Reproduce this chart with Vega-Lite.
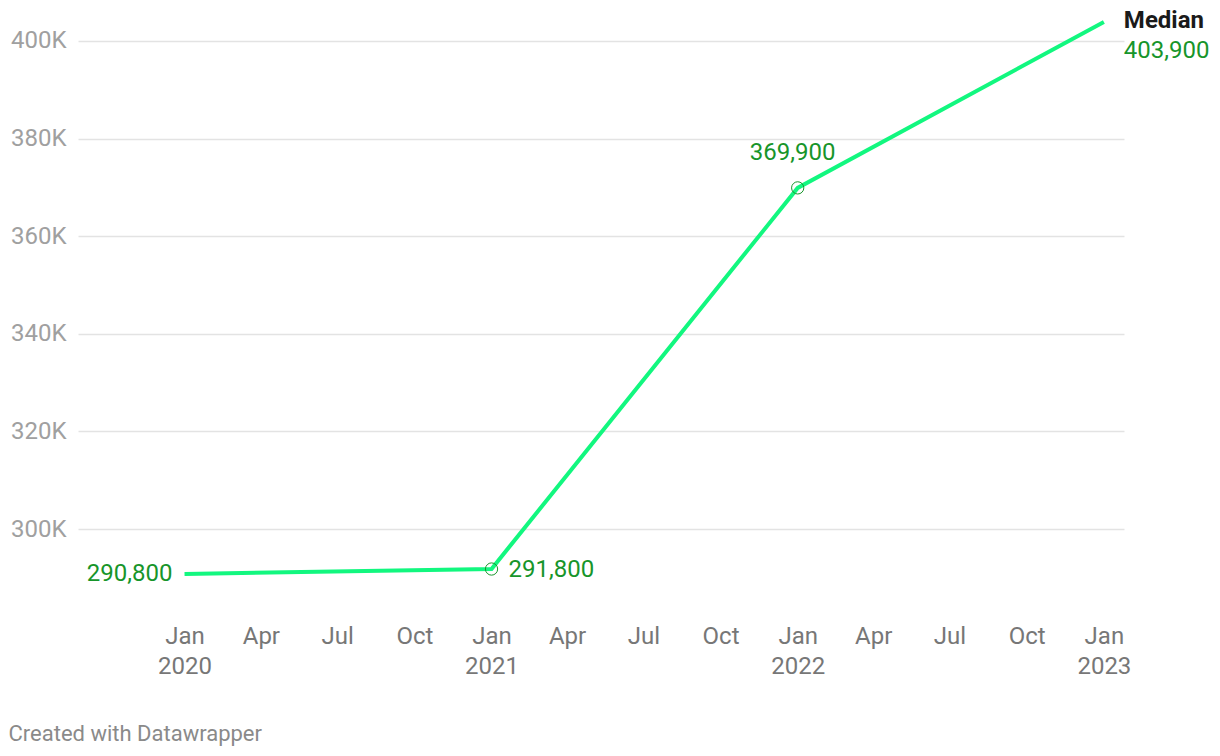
{
  "$schema": "https://vega.github.io/schema/vega-lite/v6.json",
  "autosize": "none",
  "width": 1046,
  "height": 580,
  "padding": {"left": 78, "top": 20, "right": 96, "bottom": 156},
  "background": "white",
  "config": {
    "font": "Roboto",
    "view": {"stroke": null},
    "title": {"font": "Roboto"}
  },
  "title": {
    "text": "Created with Datawrapper",
    "orient": "bottom",
    "anchor": "start",
    "dx": -2,
    "offset": 46,
    "fontSize": 22,
    "fontWeight": "normal",
    "color": "#8a8a8a",
    "font": "Roboto"
  },
  "data": {
    "values": [
      {"date": "2020-01-01", "median": 290800},
      {"date": "2021-01-01", "median": 291800},
      {"date": "2022-01-01", "median": 369900},
      {"date": "2023-01-01", "median": 403900}
    ]
  },
  "encoding": {
    "x": {
      "field": "date",
      "type": "temporal",
      "scale": {"type": "utc", "domain": [{"year": 2019, "month": 8, "date": 27, "utc": true}, {"year": 2023, "month": 1, "date": 25, "utc": true}]},
      "axis": {
        "title": null,
        "grid": false,
        "domain": false,
        "ticks": false,
        "values": [
          {"year": 2020, "month": 1, "date": 1, "utc": true},
          {"year": 2020, "month": 4, "date": 1, "utc": true},
          {"year": 2020, "month": 7, "date": 1, "utc": true},
          {"year": 2020, "month": 10, "date": 1, "utc": true},
          {"year": 2021, "month": 1, "date": 1, "utc": true},
          {"year": 2021, "month": 4, "date": 1, "utc": true},
          {"year": 2021, "month": 7, "date": 1, "utc": true},
          {"year": 2021, "month": 10, "date": 1, "utc": true},
          {"year": 2022, "month": 1, "date": 1, "utc": true},
          {"year": 2022, "month": 4, "date": 1, "utc": true},
          {"year": 2022, "month": 7, "date": 1, "utc": true},
          {"year": 2022, "month": 10, "date": 1, "utc": true},
          {"year": 2023, "month": 1, "date": 1, "utc": true}
        ],
        "labelExpr": "utcFormat(datum.value, '%b') == 'Jan' ? [utcFormat(datum.value, '%b'), utcFormat(datum.value, '%Y')] : utcFormat(datum.value, '%b')",
        "labelFontSize": 24,
        "labelColor": "#777777",
        "labelPadding": 24,
        "labelLineHeight": 30,
        "labelFlush": false,
        "labelOverlap": false,
        "labelBaseline": "top"
      }
    },
    "y": {
      "field": "median",
      "type": "quantitative",
      "scale": {"domain": [285451, 404303], "nice": false, "zero": false},
      "axis": {
        "title": null,
        "domain": false,
        "ticks": false,
        "values": [300000, 320000, 340000, 360000, 380000, 400000],
        "labelExpr": "format(datum.value / 1000, 'd') + 'K'",
        "labelFontSize": 24,
        "labelColor": "#a0a0a0",
        "labelPadding": 12,
        "gridColor": "#e3e3e3",
        "gridWidth": 1.5
      }
    }
  },
  "layer": [
    {
      "mark": {"type": "line", "color": "#12f77f", "strokeWidth": 4, "clip": false}
    },
    {
      "transform": [{"filter": "year(datum.date) == 2021 || year(datum.date) == 2022"}],
      "mark": {"type": "point", "shape": "circle", "filled": false, "size": 150, "stroke": "#17952a", "strokeWidth": 1, "opacity": 1}
    },
    {
      "transform": [{"filter": "utcFormat(datum.date, '%Y') == '2020'"}],
      "mark": {"type": "text", "align": "right", "baseline": "middle", "dx": -12, "fontSize": 24, "color": "#17952a"},
      "encoding": {"text": {"field": "median", "type": "quantitative", "format": ","}}
    },
    {
      "transform": [{"filter": "utcFormat(datum.date, '%Y') == '2021'"}],
      "mark": {"type": "text", "align": "left", "baseline": "middle", "dx": 17, "dy": 1, "fontSize": 24, "color": "#17952a"},
      "encoding": {"text": {"field": "median", "type": "quantitative", "format": ","}}
    },
    {
      "transform": [{"filter": "utcFormat(datum.date, '%Y') == '2022'"}],
      "mark": {"type": "text", "align": "center", "baseline": "middle", "dx": -5, "dy": -35, "fontSize": 24, "color": "#17952a"},
      "encoding": {"text": {"field": "median", "type": "quantitative", "format": ","}}
    },
    {
      "transform": [{"filter": "utcFormat(datum.date, '%Y') == '2023'"}],
      "mark": {"type": "text", "align": "left", "baseline": "middle", "dx": 20, "dy": 29, "fontSize": 24, "color": "#17952a"},
      "encoding": {"text": {"field": "median", "type": "quantitative", "format": ","}}
    },
    {
      "transform": [{"filter": "utcFormat(datum.date, '%Y') == '2023'"}],
      "mark": {"type": "text", "align": "left", "baseline": "middle", "dx": 20, "dy": -1, "fontSize": 24, "fontWeight": "bold", "color": "#1a1a1a", "text": "Median"}
    }
  ]
}
